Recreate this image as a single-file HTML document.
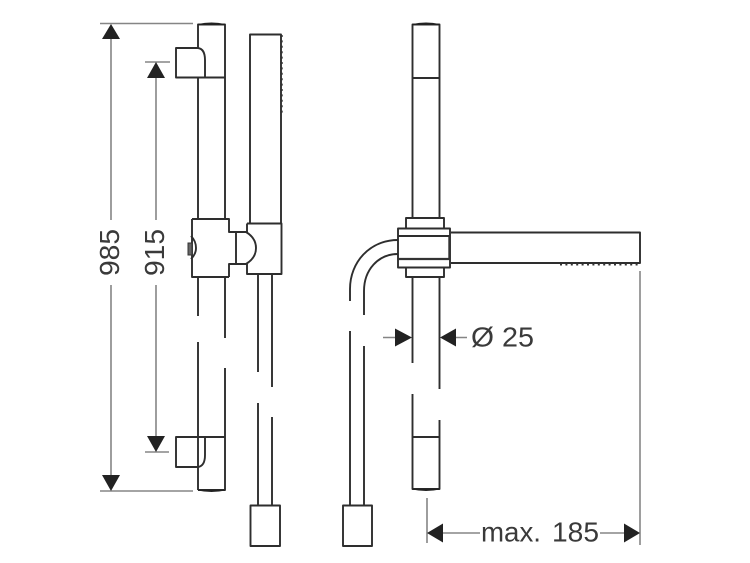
<!DOCTYPE html>
<html>
<head>
<meta charset="utf-8">
<style>
html,body{margin:0;padding:0;background:#fff;width:750px;height:563px;overflow:hidden}
svg{display:block}
.o{fill:none;stroke:#2e2e2e;stroke-width:1.9;stroke-linejoin:round}
.d{fill:none;stroke:#858585;stroke-width:1.6}
.a{fill:#222;stroke:none}
text{font-family:"Liberation Sans",sans-serif;font-size:28px;fill:#3a3a3a}
</style>
</head>
<body>
<svg width="750" height="563" viewBox="0 0 750 563" xmlns="http://www.w3.org/2000/svg">
<!-- left dimensions -->
<path class="d" d="M100 23.5H193M100 491H193M145 62H170M145 452H169"/>
<path class="d" d="M111 39V220M111 285V475M156 78V220M156 285V436"/>
<path class="a" d="M111 24L120 39H102ZM156 62L165 78H147ZM111 491L102 475H120ZM156 452L147 436H165Z"/>
<text transform="translate(119,276) rotate(-90)" textLength="47" lengthAdjust="spacingAndGlyphs">985</text>
<text transform="translate(164,276) rotate(-90)" textLength="47" lengthAdjust="spacingAndGlyphs">915</text>
<!-- left rail -->
<path class="o" d="M198 219V78M225 219V24.5H198V48M198 277V316M225 277V338M198 342V490M225 368V490H198"/>
<path d="M198 24.5Q211.5 21.5 225 24.5Z" fill="#222" stroke="#222" stroke-width="1"/>
<path d="M198 490Q211.5 493 225 490Z" fill="#222" stroke="#222" stroke-width="1"/>
<path class="o" d="M198 48H176V77.5H225M198 48Q205 49 205 60V77.5"/>
<path class="o" d="M225 437H176V467H198Q205 466 205 455V437"/>
<!-- left central block -->
<path class="o" d="M192 219H229V232H246M229 277H192V219M229 277V264H246M236 232V264"/>
<path class="o" d="M246 232Q256 238 256 248Q256 258 246 264"/>
<path class="o" d="M247 223.5H281.5V274H247V264M247 223.5V232"/>
<path class="o" d="M191 236Q196 241 196 248Q196 254 191 259"/>
<rect x="188" y="243" width="4" height="12" fill="#666" stroke="#333" stroke-width="1"/>
<!-- left handset -->
<path class="o" d="M250 223.5V34.5H281V223.5"/>
<path d="M281.5 35V116" fill="none" stroke="#333" stroke-width="2.4" stroke-dasharray="2 3.4"/>
<!-- left hose -->
<path class="o" d="M258 274V372M272 274V387M258 403V505.5M272 417V505.5"/>
<rect class="o" x="250.5" y="505.5" width="29.5" height="40.5"/>
<!-- right rail -->
<path class="o" d="M412.5 218V24.5H439.5V218M412.5 78H439.5"/>
<path d="M412.5 24.5Q426 21.5 439.5 24.5Z" fill="#222" stroke="#222" stroke-width="1"/>
<path class="o" d="M412.5 277V363M439.5 277V389M412.5 394V489H439.5V420M412.5 437H439.5"/>
<path d="M412.5 489Q426 492 439.5 489Z" fill="#222" stroke="#222" stroke-width="1"/>
<!-- right clamp -->
<path class="o" d="M406 228V218H444V228M406 267.5V277H444V267.5"/>
<rect class="o" x="398" y="228.5" width="52" height="39"/>
<path class="o" d="M398 236H450"/>
<path d="M398 259H450" fill="none" stroke="#333" stroke-width="2.2"/>
<path d="M449.5 236V259" fill="none" stroke="#333" stroke-width="2.4"/>
<!-- right handset -->
<path class="o" d="M451 232.5H640V263H451"/>
<path d="M560 264.5H640" fill="none" stroke="#333" stroke-width="2" stroke-dasharray="2 3.4"/>
<path class="d" d="M640 271V545"/>
<!-- right hose -->
<path class="o" d="M398 240C370 240 350 262 350 289V301M398 254C378 254 364 270 364 291V315M350 331V505.5M364 346V505.5"/>
<rect class="o" x="343" y="505.5" width="29" height="40.5"/>
<!-- diameter dim -->
<path class="d" d="M383 337.5H396M456 337.5H467"/>
<path class="a" d="M412 337.5L395 328.5V346.5ZM440 337.5L456 328.5V346.5Z"/>
<text x="471" y="346.5" textLength="23" lengthAdjust="spacingAndGlyphs">Ø</text>
<text x="502" y="346.5" textLength="32" lengthAdjust="spacingAndGlyphs">25</text>
<!-- max dim -->
<path class="d" d="M427 498V543M443 533H480M600 533H624"/>
<path class="a" d="M427 533L443 523.5V542.5ZM640 533L624 523.5V542.5Z"/>
<text x="481" y="541.5" textLength="60" lengthAdjust="spacingAndGlyphs">max.</text>
<text x="552" y="541.5" textLength="47" lengthAdjust="spacingAndGlyphs">185</text>
</svg>
</body>
</html>
